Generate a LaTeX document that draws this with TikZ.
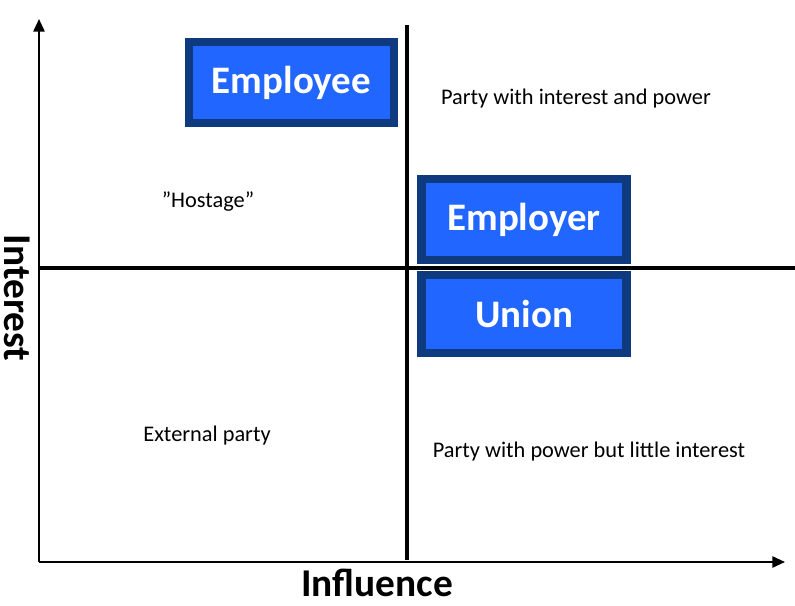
\documentclass[tikz,border=0pt]{standalone}
\usepackage{fontspec}
\setmainfont{Carlito}
\usetikzlibrary{arrows.meta}

\definecolor{boxfill}{RGB}{33,102,255}
\definecolor{boxline}{RGB}{15,58,128}

\tikzset{
  party/.style={draw=boxline, fill=boxfill, line width=5.7pt, text=white,
    font=\bfseries\fontsize{27.7}{32}\selectfont,
    minimum width=5.125cm, minimum height=2.025cm, inner sep=0pt},
  quadtext/.style={font=\fontsize{15.9}{19}\selectfont},
  axislabel/.style={font=\bfseries\fontsize{28}{33}\selectfont, inner sep=0pt},
  axis/.style={line width=1.4pt, -{Triangle[length=9pt,width=8pt]}},
  divider/.style={line width=2.5pt}
}

\begin{document}
\begin{tikzpicture}

	\useasboundingbox (0,0) rectangle (19.875,15.15);

	% Assi
	\coordinate (origin) at (0.975,1.1);
	\coordinate (ytip) at (0.975,14.675);
	\coordinate (xtip) at (19.625,1.1);
	\draw[axis] (origin) -- (ytip);
	\draw[axis] (origin) -- (xtip);

	% Linee di divisione dei quadranti
	\coordinate (vbot) at (10.175,1.15);
	\coordinate (vtop) at (10.175,14.525);
	\coordinate (hleft) at (0.975,8.45);
	\coordinate (hright) at (19.875,8.45);
	\draw[divider] (vbot) -- (vtop);
	\draw[divider] (hleft) -- (hright);

	% Etichette degli assi
	\node[axislabel] (influence) at (9.425,0.575) {Influence};
	\node[axislabel, rotate=-90, text depth=0pt, anchor=south] (interest) at (0.1,7.7) {Interest};

	% Testi dei quadranti
	\node[quadtext] (qpower) at (14.4,12.675) {Party with interest and power};
	\node[quadtext] (qhostage) at (5.2,10.1) {”Hostage”};
	\node[quadtext] (qexternal) at (5.175,4.25) {External party};
	\node[quadtext] (qlittle) at (14.725,3.85) {Party with power but little interest};

	% Parti
	\node[party] (employee) at (7.2875,13.0875) {Employee};
	\node[party] (employer) at (13.1,9.6625) {Employer};
	\node[party, minimum height=1.95cm] (union) at (13.1,7.3) {Union};

\end{tikzpicture}
\end{document}
